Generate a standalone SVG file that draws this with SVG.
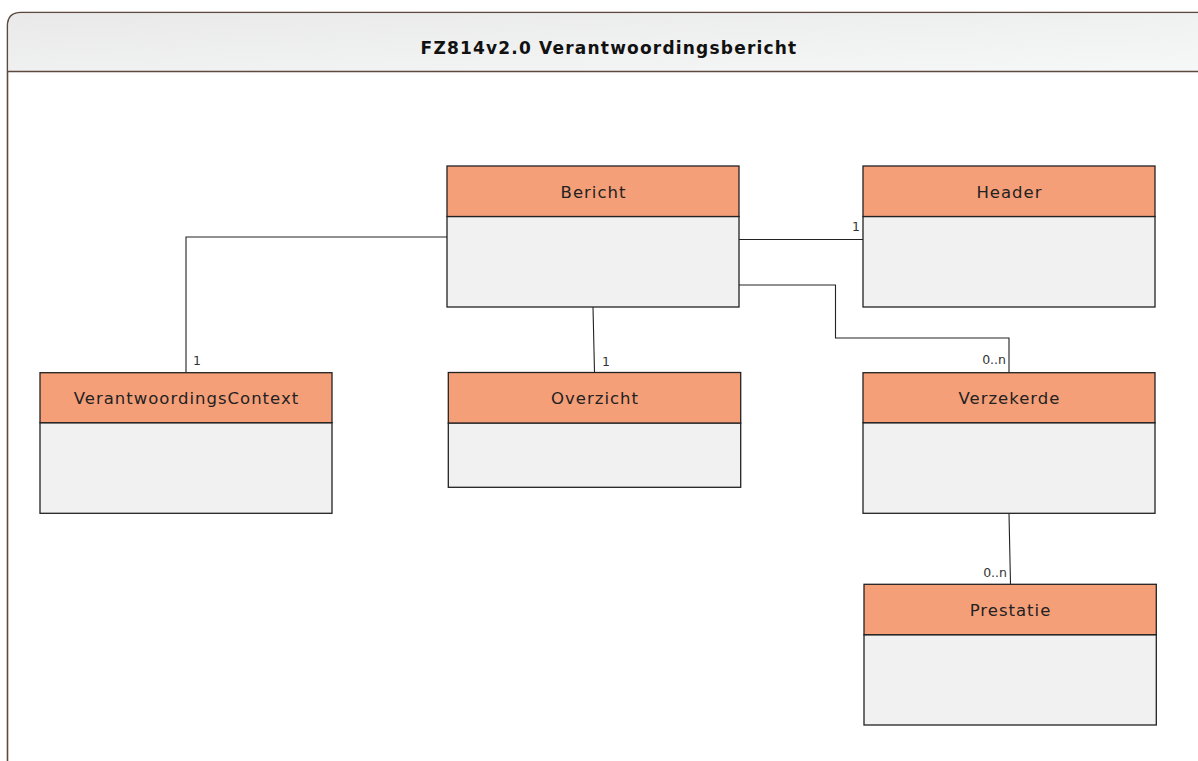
<svg xmlns="http://www.w3.org/2000/svg" width="1198" height="761" viewBox="0 0 1198 761">
<defs>
<linearGradient id="hg" x1="0" y1="0" x2="1" y2="1">
<stop offset="0" stop-color="#e9e9e9"/>
<stop offset="1" stop-color="#f6f7f7"/>
</linearGradient>
<style>
.hd{fill:#F59F79;stroke:#222;stroke-width:1.3}
.bd{fill:#F1F1F1;stroke:#222;stroke-width:1.3}
.nm{font-family:"DejaVu Sans","Liberation Sans",sans-serif;font-size:16.5px;letter-spacing:1px;fill:#222;text-anchor:middle}
.ml{font-family:"DejaVu Sans","Liberation Sans",sans-serif;font-size:12.5px;fill:#333}
.cn{fill:none;stroke:#222;stroke-width:1.1}
</style>
</defs>
<g id="frame">
<path d="M7.5,800 V26 Q7.5,12.5 21,12.5 H1210" fill="#fff" stroke="#5b4a3d" stroke-width="1.6"/>
<path d="M8.3,71 V26 Q8.3,13.3 21,13.3 H1198 V71 Z" fill="url(#hg)"/>
<line x1="7.5" y1="71.5" x2="1198" y2="71.5" stroke="#5b4a3d" stroke-width="1.6"/>
<text x="609" y="54" font-family="DejaVu Sans,Liberation Sans,sans-serif" font-size="17" font-weight="bold" letter-spacing="1.2" fill="#111" text-anchor="middle">FZ814v2.0 Verantwoordingsbericht</text>
</g>
<g id="connectors">
<polyline class="cn" points="447,237 186,237 186,373"/>
<text class="ml" x="193" y="365">1</text>
<polyline class="cn" points="739,239.5 863,239.5"/>
<text class="ml" x="860" y="231" text-anchor="end">1</text>
<polyline class="cn" points="739,285 835.5,285 835.5,338 1009,338 1009,373"/>
<text class="ml" x="1006" y="364" text-anchor="end">0..n</text>
<polyline class="cn" points="593,307 594.5,372.5"/>
<text class="ml" x="602" y="366">1</text>
<polyline class="cn" points="1009,513.5 1010.5,584.5"/>
<text class="ml" x="1007" y="577" text-anchor="end">0..n</text>
</g>
<g id="Bericht">
<rect class="bd" x="447" y="216.5" width="292" height="90.5"/>
<rect class="hd" x="447" y="166" width="292" height="50.5"/>
<text class="nm" x="593.5" y="198">Bericht</text>
</g>
<g id="Header">
<rect class="bd" x="863" y="216.5" width="292" height="90.5"/>
<rect class="hd" x="863" y="166" width="292" height="50.5"/>
<text class="nm" x="1009.5" y="198">Header</text>
</g>
<g id="VerantwoordingsContext">
<rect class="bd" x="40" y="422.7" width="292" height="90.6"/>
<rect class="hd" x="40" y="372.7" width="292" height="50"/>
<text class="nm" x="186.5" y="404">VerantwoordingsContext</text>
</g>
<g id="Overzicht">
<rect class="bd" x="448.3" y="423" width="292.4" height="64.3"/>
<rect class="hd" x="448.3" y="372.5" width="292.4" height="50.5"/>
<text class="nm" x="595" y="404">Overzicht</text>
</g>
<g id="Verzekerde">
<rect class="bd" x="863" y="422.7" width="292" height="90.6"/>
<rect class="hd" x="863" y="372.7" width="292" height="50"/>
<text class="nm" x="1009.5" y="404">Verzekerde</text>
</g>
<g id="Prestatie">
<rect class="bd" x="864" y="634.7" width="292.3" height="90.3"/>
<rect class="hd" x="864" y="584.3" width="292.3" height="50.4"/>
<text class="nm" x="1010.5" y="616">Prestatie</text>
</g>
</svg>
